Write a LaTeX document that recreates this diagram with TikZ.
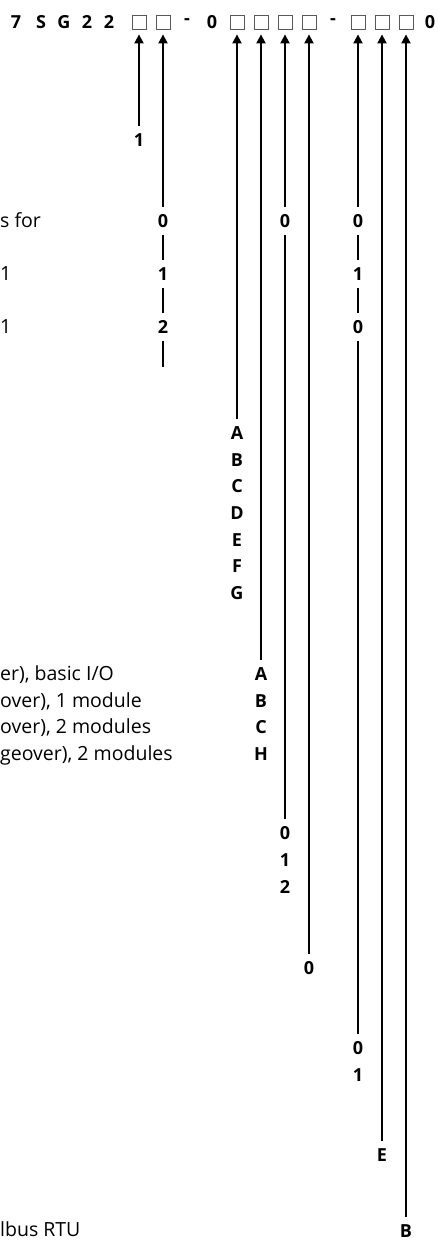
\documentclass[tikz,border=0pt]{standalone}
\usepackage{fontspec}
\setmainfont{Open Sans}
\usetikzlibrary{arrows.meta,backgrounds}
\tikzset{
  hdr/.style={font=\bfseries\fontsize{18}{21}\selectfont, inner sep=0pt, anchor=center},
  codebox/.style={draw=black!65, line width=0.8pt, minimum size=14pt, inner sep=0pt},
  lab/.style={font=\bfseries\fontsize{18}{21}\selectfont, fill=white, inner xsep=1.5pt, inner ysep=0pt,
              text height=12.9pt, text depth=0pt, minimum height=28pt},
  desc/.style={font=\fontsize{19.5}{23}\selectfont, anchor=west, inner sep=0pt, text height=13.9pt, text depth=0pt},
  conn/.style={line width=1.9pt, -{Triangle[width=9pt,length=9pt]}, shorten >=5pt},
}
\begin{document}
\begin{tikzpicture}[x=1pt,y=-1pt]
\useasboundingbox (0,0) rectangle (438,1242);
% header
\node[hdr] (h7) at (16,22) {7};
\node[hdr] (hS) at (41,22) {S};
\node[hdr] (hG) at (64,22) {G};
\node[hdr] (h2a) at (87,22) {2};
\node[hdr] (h2b) at (109,22) {2};
\node[codebox] (b1) at (139,22) {};
\node[codebox] (b2) at (163,22) {};
\node[hdr] (d1) at (187,22) {-};
\node[hdr] (h0a) at (212,22) {0};
\node[codebox] (b3) at (237,22) {};
\node[codebox] (b4) at (261,22) {};
\node[codebox] (b5) at (285,22) {};
\node[codebox] (b6) at (309,22) {};
\node[hdr] (d2) at (333,22) {-};
\node[codebox] (b7) at (358,22) {};
\node[codebox] (b8) at (382,22) {};
\node[codebox] (b9) at (406,22) {};
\node[hdr] (h0b) at (430,22) {0};
% column 1
\node[lab] (c1a) at (139,140) {1};
% column 2
\node[lab] (c2a) at (163,221) {0};
\node[lab] (c2b) at (163,274) {1};
\node[lab] (c2c) at (163,327) {2};
\coordinate (c2end) at (163,367);
% column 3
\foreach \t [count=\i from 0] in {A,B,C,D,E,F,G}
  \node[lab] (c3\t) at (237,433+26.7*\i) {\t};
% column 4
\foreach \t [count=\i from 0] in {A,B,C,H}
  \node[lab] (c4\t) at (261,674+26.7*\i) {\t};
% column 5
\node[lab] (c5top) at (285,221) {0};
\node[lab] (c5a) at (285,833) {0};
\node[lab] (c5b) at (285,860) {1};
\node[lab] (c5c) at (285,887) {2};
% column 6
\node[lab] (c6a) at (309,968) {0};
% column 7
\node[lab] (c7t1) at (358,221) {0};
\node[lab] (c7t2) at (358,274) {1};
\node[lab] (c7t3) at (358,327) {0};
\node[lab] (c7a) at (358,1048) {0};
\node[lab] (c7b) at (358,1075) {1};
% column 8
\node[lab] (c8a) at (382,1155) {E};
% column 9
\node[lab] (c9a) at (406,1231) {B};
% descriptions (as cut at the left edge)
\node[desc] (t1) at (0,221) {s for};
\node[desc] (t2) at (0,274) {1};
\node[desc] (t3) at (0,327) {1};
\node[desc] (t4) at (0,674) {er), basic I/O};
\node[desc] (t5) at (0,701) {over), 1 module};
\node[desc] (t6) at (0,727) {over), 2 modules};
\node[desc] (t7) at (0,754) {geover), 2 modules};
\node[desc] (t8) at (0,1230) {lbus RTU};
% connectors
\begin{pgfonlayer}{background}
\draw[conn] (c1a.north) -- (b1.south);
\draw[conn] (c2end) -- (b2.south);
\draw[conn] (c3A.north) -- (b3.south);
\draw[conn] (c4A.north) -- (b4.south);
\draw[conn] (c5a.north) -- (b5.south);
\draw[conn] (c6a.north) -- (b6.south);
\draw[conn] (c7a.north) -- (b7.south);
\draw[conn] (c8a.north) -- (b8.south);
\draw[conn] (c9a.north) -- (b9.south);
\end{pgfonlayer}
\end{tikzpicture}
\end{document}
